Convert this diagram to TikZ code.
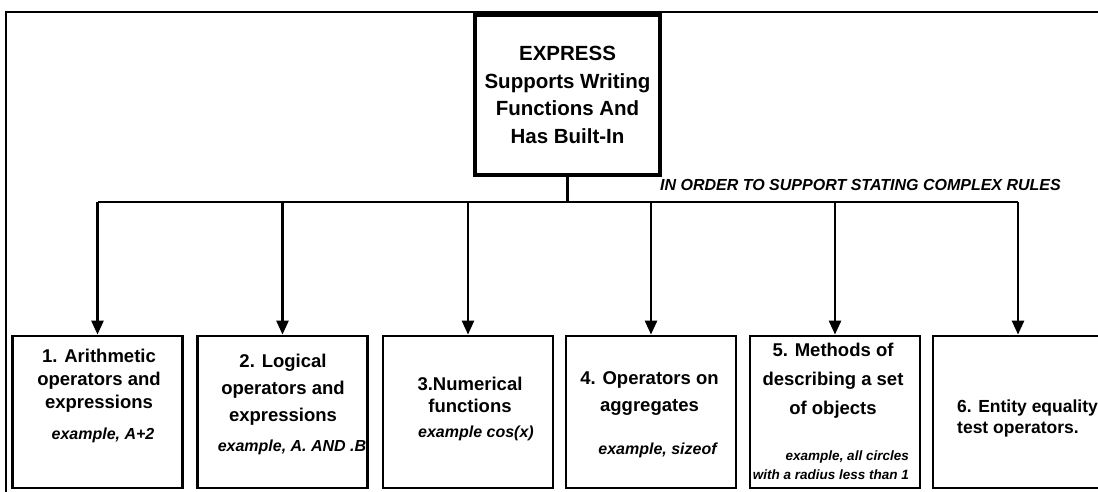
\documentclass[tikz,border=0pt]{standalone}
\usepackage{fontspec}
\setmainfont{Liberation Sans}
\newfontfamily\heavyfont{Liberation Sans}[UprightFont=* Bold]
\usetikzlibrary{arrows.meta}
\usetikzlibrary{positioning}

\tikzset{
  headbox/.style={draw, line width=3.2pt, minimum width=185pt, minimum height=160pt, inner sep=0pt, align=center, font=\heavyfont\fontsize{20.5}{27.5}\selectfont},
  topicbox/.style={draw, line width=2.8pt, minimum width=170pt, minimum height=152pt, inner sep=0pt},
  topic/.style={align=center, inner sep=0pt, font=\fontsize{18.5}{23}\selectfont\bfseries},
  loosetopic/.style={topic, font=\fontsize{18.5}{27}\selectfont\bfseries},
  sample/.style={align=center, inner sep=0pt, font=\fontsize{16}{19}\selectfont\bfseries\itshape},
  feed/.style={line width=2.6pt, -{Triangle[width=12pt,length=14pt]}},
}

\begin{document}
\begin{tikzpicture}[x=1pt, y=-1pt]
    \useasboundingbox (0,0) rectangle (1098,491);
    \draw[line width=2pt] (6,12) rectangle (1115,505);

    \node[headbox] (head) at (567.5,95) {EXPRESS\\Supports Writing\\Functions And\\Has Built-In};
    \node[anchor=west, inner sep=0pt, font=\fontsize{16}{19}\selectfont\bfseries\itshape] (why) at (660,185) {IN ORDER TO SUPPORT STATING COMPLEX RULES};

    \node[topicbox] (b1) at (97.5,412) {};
    \node[topicbox] (b2) at (282.5,412) {};
    \node[topicbox] (b3) at (468,412) {};
    \node[topicbox] (b4) at (651,412) {};
    \node[topicbox] (b5) at (835,412) {};
    \node[topicbox] (b6) at (1018,412) {};

    \node[topic] (t1) at (99,380.5) {1. Arithmetic\\operators and\\expressions};
    \node[sample] (s1) at (103,435) {example, A+2};
    \node[loosetopic] (t2) at (283,390) {2. Logical\\operators and\\expressions};
    \node[sample] (s2) at (292,447) {example, A. AND .B};
    \node[topic, font=\fontsize{18.5}{22}\selectfont\bfseries] (t3) at (470,395) {3.Numerical\\functions};
    \node[sample] (s3) at (476,433) {example cos(x)};
    \node[loosetopic] (t4) at (649.5,393.5) {4. Operators on\\aggregates};
    \node[sample] (s4) at (657.5,450) {example, sizeof};
    \node[topic, font=\fontsize{18.5}{29}\selectfont\bfseries] (t5) at (833,381) {5. Methods of\\describing a set\\of objects};
    \node[sample, align=right, anchor=east, font=\fontsize{13.5}{19}\selectfont\bfseries\itshape] (s5) at (909,465.5) {example, all circles\\with a radius less than 1};
    \node[topic, align=left, anchor=west, font=\fontsize{17.5}{21}\selectfont\bfseries] (t6) at (957,418.5) {6. Entity equality\\test operators.};

    % connectors
    \coordinate (bus) at (567.5,202);
    \draw[line width=2.6pt] (head.south) -- (bus);
    \draw[line width=2.6pt] (b1.north |- bus) -- (b6.north |- bus);
    \foreach \i in {1,...,6}
        \draw[feed] (b\i.north |- bus) -- (b\i.north);
\end{tikzpicture}
\end{document}
